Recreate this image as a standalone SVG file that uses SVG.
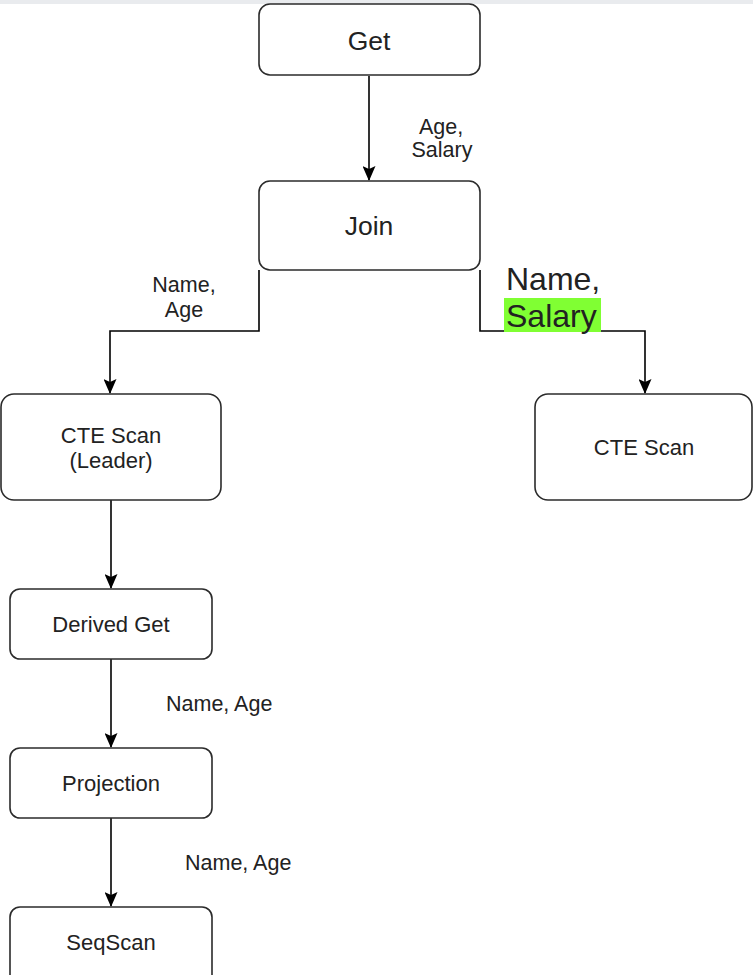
<svg xmlns="http://www.w3.org/2000/svg" width="753" height="975" viewBox="0 0 753 975">
<defs>
<marker id="ah" markerWidth="15" markerHeight="13" refX="14" refY="6.5" orient="auto" markerUnits="userSpaceOnUse" viewBox="0 0 15 13">
<path d="M0,0 L15,6.5 L0,13 L3,6.5 Z" fill="#000"/>
</marker>
<style>
.box{fill:#fff;stroke:#2b2b2b;stroke-width:1.6}
.t{font-family:"Liberation Sans",Arial,sans-serif;fill:#222;text-anchor:middle}
.n{font-size:22px}
.big{font-size:26.5px}
.lbl{font-family:"Liberation Sans",Arial,sans-serif;fill:#222;font-size:21.5px}
.edge{fill:none;stroke:#000;stroke-width:1.6}
</style>
</defs>
<rect x="0" y="0" width="753" height="975" fill="#fff"/>
<rect x="0" y="0" width="753" height="4" fill="#e9ebee"/>
<g id="connectors">
<path class="edge" d="M369,76 V180" marker-end="url(#ah)"/>
<path class="edge" d="M259,270 V331 H110 V393" marker-end="url(#ah)"/>
<path class="edge" d="M480,270 V331 H645 V393" marker-end="url(#ah)"/>
<path class="edge" d="M111,500 V588" marker-end="url(#ah)"/>
<path class="edge" d="M111,659 V747" marker-end="url(#ah)"/>
<path class="edge" d="M111,818 V906" marker-end="url(#ah)"/>
</g>
<g id="labels">
<text class="lbl" x="441" y="134" text-anchor="middle">Age,</text>
<text class="lbl" x="442" y="157" text-anchor="middle">Salary</text>
<text class="lbl" x="184" y="292" text-anchor="middle">Name,</text>
<text class="lbl" x="184" y="317" text-anchor="middle">Age</text>
<rect x="504" y="298" width="97" height="34" fill="#80ff33"/>
<text class="lbl" x="506" y="290" style="font-size:32px">Name,</text>
<text class="lbl" x="506" y="327" style="font-size:32px">Salary</text>
<text class="lbl" x="166" y="711">Name, Age</text>
<text class="lbl" x="185" y="870">Name, Age</text>
</g>
<g id="get">
<rect class="box" x="259" y="4" width="221" height="71" rx="11"/>
<text class="t big" x="369" y="50">Get</text>
</g>
<g id="join">
<rect class="box" x="259" y="181" width="221" height="89" rx="11"/>
<text class="t big" x="369" y="235">Join</text>
</g>
<g id="cte-leader">
<rect class="box" x="1" y="394" width="220" height="106" rx="13"/>
<text class="t n" x="111" y="443">CTE Scan</text>
<text class="t n" x="111" y="468">(Leader)</text>
</g>
<g id="cte-scan">
<rect class="box" x="535" y="394" width="217" height="106" rx="13"/>
<text class="t n" x="644" y="455">CTE Scan</text>
</g>
<g id="derived-get">
<rect class="box" x="10" y="589" width="202" height="70" rx="10"/>
<text class="t n" x="111" y="632">Derived Get</text>
</g>
<g id="projection">
<rect class="box" x="10" y="748" width="202" height="70" rx="10"/>
<text class="t n" x="111" y="791">Projection</text>
</g>
<g id="seqscan">
<rect class="box" x="10" y="907" width="202" height="80" rx="10"/>
<text class="t n" x="111" y="950">SeqScan</text>
</g>
</svg>
